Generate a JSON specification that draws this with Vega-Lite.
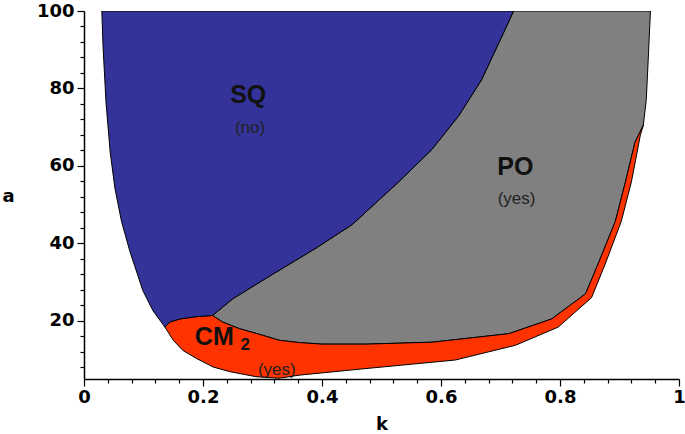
{
  "$schema": "https://vega.github.io/schema/vega-lite/v6.json",
  "width": 595,
  "height": 368,
  "autosize": {"type": "none"},
  "padding": {"left": 84, "top": 11, "right": 6, "bottom": 55},
  "background": "white",
  "config": {
    "view": {"stroke": null},
    "axis": {
      "domainColor": "black", "domainWidth": 1.5, "tickColor": "black", "tickWidth": 1.2,
      "labelFont": "DejaVu Sans", "labelFontWeight": "bold", "labelFontSize": 18, "labelColor": "black",
      "titleFont": "DejaVu Sans", "titleFontWeight": "bold", "titleFontSize": 18, "titleColor": "black",
      "grid": false, "labelOverlap": false
    }
  },
  "datasets": {
    "regions": [
      {"region": "SQ", "i": 0, "k": 0.030, "a": 100},
      {"region": "SQ", "i": 1, "k": 0.722, "a": 100},
      {"region": "SQ", "i": 2, "k": 0.697, "a": 91.7},
      {"region": "SQ", "i": 3, "k": 0.668, "a": 82.2},
      {"region": "SQ", "i": 4, "k": 0.630, "a": 73.0},
      {"region": "SQ", "i": 5, "k": 0.585, "a": 64.3},
      {"region": "SQ", "i": 6, "k": 0.529, "a": 55.9},
      {"region": "SQ", "i": 7, "k": 0.451, "a": 44.9},
      {"region": "SQ", "i": 8, "k": 0.390, "a": 38.8},
      {"region": "SQ", "i": 9, "k": 0.307, "a": 31.1},
      {"region": "SQ", "i": 10, "k": 0.250, "a": 25.7},
      {"region": "SQ", "i": 11, "k": 0.216, "a": 21.4},
      {"region": "SQ", "i": 12, "k": 0.189, "a": 21.1},
      {"region": "SQ", "i": 13, "k": 0.161, "a": 20.5},
      {"region": "SQ", "i": 14, "k": 0.144, "a": 19.7},
      {"region": "SQ", "i": 15, "k": 0.136, "a": 18.4},
      {"region": "SQ", "i": 16, "k": 0.116, "a": 22.6},
      {"region": "SQ", "i": 17, "k": 0.099, "a": 27.8},
      {"region": "SQ", "i": 18, "k": 0.077, "a": 38.0},
      {"region": "SQ", "i": 19, "k": 0.063, "a": 45.7},
      {"region": "SQ", "i": 20, "k": 0.052, "a": 54.2},
      {"region": "SQ", "i": 21, "k": 0.044, "a": 63.6},
      {"region": "SQ", "i": 22, "k": 0.037, "a": 76.4},
      {"region": "SQ", "i": 23, "k": 0.032, "a": 90.9},

      {"region": "PO", "i": 0, "k": 0.216, "a": 21.4},
      {"region": "PO", "i": 1, "k": 0.250, "a": 25.7},
      {"region": "PO", "i": 2, "k": 0.307, "a": 31.1},
      {"region": "PO", "i": 3, "k": 0.390, "a": 38.8},
      {"region": "PO", "i": 4, "k": 0.451, "a": 44.9},
      {"region": "PO", "i": 5, "k": 0.529, "a": 55.9},
      {"region": "PO", "i": 6, "k": 0.585, "a": 64.3},
      {"region": "PO", "i": 7, "k": 0.630, "a": 73.0},
      {"region": "PO", "i": 8, "k": 0.668, "a": 82.2},
      {"region": "PO", "i": 9, "k": 0.697, "a": 91.7},
      {"region": "PO", "i": 10, "k": 0.722, "a": 100},
      {"region": "PO", "i": 11, "k": 0.952, "a": 100},
      {"region": "PO", "i": 12, "k": 0.948, "a": 86.6},
      {"region": "PO", "i": 13, "k": 0.945, "a": 77.1},
      {"region": "PO", "i": 14, "k": 0.940, "a": 70.5},
      {"region": "PO", "i": 15, "k": 0.926, "a": 66.1},
      {"region": "PO", "i": 16, "k": 0.910, "a": 55.9},
      {"region": "PO", "i": 17, "k": 0.893, "a": 45.7},
      {"region": "PO", "i": 18, "k": 0.864, "a": 34.7},
      {"region": "PO", "i": 19, "k": 0.843, "a": 27.0},
      {"region": "PO", "i": 20, "k": 0.786, "a": 20.5},
      {"region": "PO", "i": 21, "k": 0.714, "a": 16.7},
      {"region": "PO", "i": 22, "k": 0.585, "a": 14.5},
      {"region": "PO", "i": 23, "k": 0.474, "a": 14.0},
      {"region": "PO", "i": 24, "k": 0.400, "a": 14.0},
      {"region": "PO", "i": 25, "k": 0.362, "a": 14.4},
      {"region": "PO", "i": 26, "k": 0.328, "a": 15.0},
      {"region": "PO", "i": 27, "k": 0.300, "a": 16.3},
      {"region": "PO", "i": 28, "k": 0.261, "a": 18.0},
      {"region": "PO", "i": 29, "k": 0.233, "a": 19.7},

      {"region": "CM", "i": 0, "k": 0.136, "a": 18.4},
      {"region": "CM", "i": 1, "k": 0.144, "a": 19.7},
      {"region": "CM", "i": 2, "k": 0.161, "a": 20.5},
      {"region": "CM", "i": 3, "k": 0.189, "a": 21.1},
      {"region": "CM", "i": 4, "k": 0.216, "a": 21.4},
      {"region": "CM", "i": 5, "k": 0.233, "a": 19.7},
      {"region": "CM", "i": 6, "k": 0.261, "a": 18.0},
      {"region": "CM", "i": 7, "k": 0.300, "a": 16.3},
      {"region": "CM", "i": 8, "k": 0.328, "a": 15.0},
      {"region": "CM", "i": 9, "k": 0.362, "a": 14.4},
      {"region": "CM", "i": 10, "k": 0.400, "a": 14.0},
      {"region": "CM", "i": 11, "k": 0.474, "a": 14.0},
      {"region": "CM", "i": 12, "k": 0.585, "a": 14.5},
      {"region": "CM", "i": 13, "k": 0.714, "a": 16.7},
      {"region": "CM", "i": 14, "k": 0.786, "a": 20.5},
      {"region": "CM", "i": 15, "k": 0.843, "a": 27.0},
      {"region": "CM", "i": 16, "k": 0.864, "a": 34.7},
      {"region": "CM", "i": 17, "k": 0.893, "a": 45.7},
      {"region": "CM", "i": 18, "k": 0.910, "a": 55.9},
      {"region": "CM", "i": 19, "k": 0.926, "a": 66.1},
      {"region": "CM", "i": 20, "k": 0.940, "a": 70.5},
      {"region": "CM", "i": 21, "k": 0.935, "a": 67.9},
      {"region": "CM", "i": 22, "k": 0.920, "a": 55.9},
      {"region": "CM", "i": 23, "k": 0.903, "a": 45.7},
      {"region": "CM", "i": 24, "k": 0.876, "a": 34.7},
      {"region": "CM", "i": 25, "k": 0.853, "a": 26.0},
      {"region": "CM", "i": 26, "k": 0.797, "a": 18.4},
      {"region": "CM", "i": 27, "k": 0.725, "a": 13.7},
      {"region": "CM", "i": 28, "k": 0.624, "a": 9.9},
      {"region": "CM", "i": 29, "k": 0.474, "a": 7.7},
      {"region": "CM", "i": 30, "k": 0.362, "a": 6.0},
      {"region": "CM", "i": 31, "k": 0.328, "a": 5.2},
      {"region": "CM", "i": 32, "k": 0.289, "a": 5.6},
      {"region": "CM", "i": 33, "k": 0.245, "a": 6.9},
      {"region": "CM", "i": 34, "k": 0.217, "a": 8.1},
      {"region": "CM", "i": 35, "k": 0.189, "a": 10.3},
      {"region": "CM", "i": 36, "k": 0.166, "a": 12.4},
      {"region": "CM", "i": 37, "k": 0.150, "a": 15.0}
    ],
    "labels": [
      {"text": "SQ", "k": 0.276, "a": 78.2, "kind": "big"},
      {"text": "(no)", "k": 0.279, "a": 69.7, "kind": "small"},
      {"text": "PO", "k": 0.725, "a": 59.8, "kind": "big"},
      {"text": "(yes)", "k": 0.727, "a": 51.4, "kind": "small"},
      {"text": "CM", "k": 0.219, "a": 15.9, "kind": "big"},
      {"text": "2", "k": 0.271, "a": 13.8, "kind": "sub"},
      {"text": "(yes)", "k": 0.324, "a": 7.4, "kind": "small"}
    ]
  },
  "encoding": {
    "x": {"field": "k", "type": "quantitative", "scale": {"domain": [0, 1], "nice": false, "zero": false},
      "axis": {"title": "k", "values": [0,0.04,0.08,0.12,0.16,0.2,0.24,0.28,0.32,0.36,0.4,0.44,0.48,0.52,0.56,0.6,0.64,0.68,0.72,0.76,0.8,0.84,0.88,0.92,0.96,1],
        "labelExpr": "round(datum.value*100) % 20 === 0 ? format(datum.value, '.1~f') : ''",
        "tickSize": {"condition": {"test": "round(datum.value*100) % 20 === 0", "value": 7}, "value": 4},
        "labelPadding": 2, "labelFlush": false, "labelOverlap": false,
        "titleBaseline": "middle", "titleY": 45}},
    "y": {"field": "a", "type": "quantitative", "scale": {"domain": [5, 100], "nice": false, "zero": false},
      "axis": {"title": "a", "values": [8,12,16,20,24,28,32,36,40,44,48,52,56,60,64,68,72,76,80,84,88,92,96,100],
        "labelExpr": "datum.value % 20 === 0 ? datum.label : ''",
        "tickSize": {"condition": {"test": "datum.value % 20 === 0", "value": 7}, "value": 4},
        "labelPadding": 3, "labelFlush": false, "labelOverlap": false,
        "titleAngle": 0, "titleAlign": "center", "titleBaseline": "middle", "titleX": -76, "titleY": 185}}
  },
  "layer": [
    {
      "data": {"name": "regions"},
      "transform": [{"filter": "datum.region === 'PO'"}],
      "mark": {"type": "line", "interpolate": "linear-closed", "fill": "#808080", "stroke": "black", "strokeWidth": 1, "clip": true},
      "encoding": {"order": {"field": "i", "type": "quantitative"}}
    },
    {
      "data": {"name": "regions"},
      "transform": [{"filter": "datum.region === 'CM'"}],
      "mark": {"type": "line", "interpolate": "linear-closed", "fill": "#ff3300", "stroke": "black", "strokeWidth": 1, "clip": true},
      "encoding": {"order": {"field": "i", "type": "quantitative"}}
    },
    {
      "data": {"name": "regions"},
      "transform": [{"filter": "datum.region === 'SQ'"}],
      "mark": {"type": "line", "interpolate": "linear-closed", "fill": "#333399", "stroke": "black", "strokeWidth": 1, "clip": true},
      "encoding": {"order": {"field": "i", "type": "quantitative"}}
    },
    {
      "data": {"name": "labels"},
      "transform": [{"filter": "datum.kind === 'big'"}],
      "mark": {"type": "text", "font": "Liberation Sans", "fontWeight": "bold", "fontSize": 25, "color": "#111111", "align": "center", "baseline": "middle"},
      "encoding": {"text": {"field": "text"}}
    },
    {
      "data": {"name": "labels"},
      "transform": [{"filter": "datum.kind === 'sub'"}],
      "mark": {"type": "text", "font": "Liberation Sans", "fontWeight": "bold", "fontSize": 17, "color": "#111111", "align": "center", "baseline": "middle"},
      "encoding": {"text": {"field": "text"}}
    },
    {
      "data": {"name": "labels"},
      "transform": [{"filter": "datum.kind === 'small'"}],
      "mark": {"type": "text", "font": "Liberation Sans", "fontSize": 17, "color": "#222222", "align": "center", "baseline": "middle"},
      "encoding": {"text": {"field": "text"}}
    }
  ]
}
